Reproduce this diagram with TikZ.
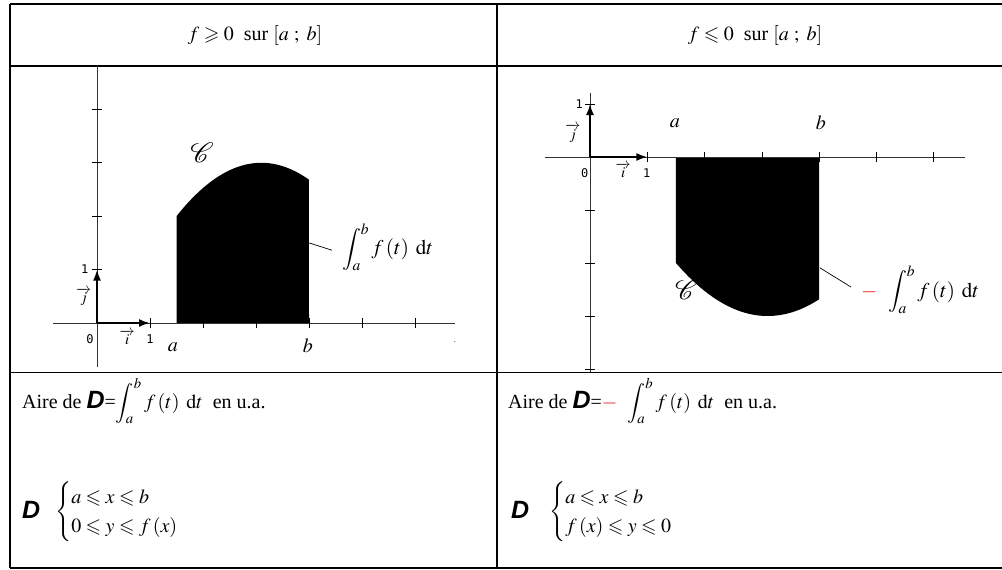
\documentclass[tikz,border=0pt]{standalone}
\usepackage{amsmath, amssymb}
\usepackage{mathptmx}
\usepackage{fontspec}
\setmainfont{Liberation Serif}
\newfontfamily\axisfont{DejaVu Sans Mono}
\newfontfamily\domfont{Liberation Sans}
\usepackage{tikz}
\usetikzlibrary{arrows.meta}
\definecolor{signred}{RGB}{230, 20, 20}
\newcommand{\domD}{{\domfont\bfseries\itshape\fontsize{25}{25}\selectfont D}}
\newcommand{\intab}{\displaystyle\int_a^b f\left(t\right)\;\mathrm{d}t}
\newcommand{\bigint}{{\fontsize{20}{24}\selectfont$\intab$}}

\tikzset{
  table line/.style={line width=1.1pt},
  axis line/.style={line width=0.8pt, black!80},
  tick mark/.style={line width=0.8pt},
  unit vec/.style={line width=1.8pt, -{Latex[length=11pt, width=8pt]}},
  axis num/.style={font=\axisfont\fontsize{12}{12}\selectfont, inner sep=0pt},
  vec lbl/.style={font=\fontsize{15}{15}\selectfont, inner sep=0pt},
  bound lbl/.style={font=\fontsize{20}{20}\selectfont, inner sep=0pt},
  curve lbl/.style={font=\fontsize{28}{28}\selectfont, inner sep=0pt},
  int lbl/.style={inner sep=0pt, anchor=west, font=\fontsize{21}{25}\selectfont}
}

\begin{document}
\begin{tikzpicture}[x=1pt, y=-1pt, font=\fontsize{20}{24}\selectfont]
  \useasboundingbox (0,0) rectangle (1002,570);

  % Table
  \draw[table line] (10,4) -- (1002,4);
  \draw[table line] (10,66) -- (1002,66);
  \draw[table line] (10,372.5) -- (1002,372.5);
  \draw[line width=2pt] (10,568) -- (1002,568);
  \draw[table line] (10,4) -- (10,568);
  \draw[table line] (497,4) -- (497,568);

  % Headers
  \node (hdL) at (255,35) {$f\geqslant 0$ \ sur $[a\ ;\ b]$};
  \node (hdR) at (755,35) {$f\leqslant 0$ \ sur $[a\ ;\ b]$};

  % f >= 0
  \begin{scope}[shift={(97,323)}, x=53pt, y=53.4pt]
    \fill (1.5,0) -- plot[domain=1.5:4, samples=60] (\x, {3-((\x-3.1)/1.6)^2})
      -- (4,0) -- cycle;
    \draw[axis line] (-0.83,0) -- (6.75,0);
    \draw[axis line] (0,-0.82) -- (0,4.81);
    \foreach \k in {1,...,6}
      \draw[tick mark] (\k,0) ++(0,-5pt) -- ++(0,10pt);
    \foreach \k in {1,...,4}
      \draw[tick mark] (0,\k) ++(-5pt,0) -- ++(10pt,0);
    \draw[unit vec] (0,0) -- (1,0);
    \draw[unit vec] (0,0) -- (0,1);

    \node[axis num] (oL) at (-0.13,-0.30) {0};
    \node[axis num] (xoneL) at (1.0,-0.30) {1};
    \node[axis num] (yoneL) at (-0.23,1.01) {1};
    \node[vec lbl] (iL) at (0.57,-0.27) {$\overrightarrow{i}$};
    \node[vec lbl] (jL) at (-0.25,0.49) {$\overrightarrow{j}$};
    \node[bound lbl] (aL) at (1.43,-0.46) {$a$};
    \node[bound lbl] (bL) at (3.98,-0.43) {$b$};
    \node[curve lbl] (cL) at (1.98,3.18) {$\mathcal{C}$};
    \node[inner sep=0pt, font=\fontsize{8}{8}\selectfont] (dotL) at (6.75,-0.36) {.};

    \coordinate (pL) at (4,1.5);
    \node[int lbl] (intL) at (4.62,1.42) {$\intab$};
    \draw[line width=0.7pt] (pL) -- ([shift={(-10pt,-3pt)}]intL.west);
  \end{scope}

  % f <= 0
  \begin{scope}[shift={(590,157)}, x=57.3pt, y=53pt]
    \fill (1.5,0) -- plot[domain=1.5:4, samples=60] (\x, {-3+((\x-3.1)/1.6)^2})
      -- (4,0) -- cycle;
    \draw[axis line] (-0.79,0) -- (6.54,0);
    \draw[axis line] (0,1.21) -- (0,-4.06);
    \foreach \k in {1,...,6}
      \draw[tick mark] (\k,0) ++(0,-5pt) -- ++(0,10pt);
    \foreach \k in {1,-1,-2,-3,-4}
      \draw[tick mark] (0,\k) ++(-5pt,0) -- ++(10pt,0);
    \draw[unit vec] (0,0) -- (1,0);
    \draw[unit vec] (0,0) -- (0,1);

    \node[axis num] (oR) at (-0.09,-0.30) {0};
    \node[axis num] (xoneR) at (0.99,-0.30) {1};
    \node[axis num] (yoneR) at (-0.19,1.0) {1};
    \node[vec lbl] (iR) at (0.58,-0.25) {$\overrightarrow{i}$};
    \node[vec lbl] (jR) at (-0.30,0.45) {$\overrightarrow{j}$};
    \node[bound lbl] (aR) at (1.48,0.64) {$a$};
    \node[bound lbl] (bR) at (4.03,0.64) {$b$};
    \node[curve lbl] (cR) at (1.69,-2.5) {$\mathcal{C}$};

    \coordinate (pR) at (4.01,-2.09);
    \node[int lbl] (intR) at (4.73,-2.51)
      {\textcolor{signred}{$-$}\ \ $\intab$};
    \draw[line width=0.7pt] (pR) -- ([shift={(-10pt,3pt)}]intR.west);
  \end{scope}

  % Areas and domains
  \node[anchor=base west, inner sep=0pt] (aireL) at (22,408)
    {Aire de \domD{=}\bigint\ \ en u.a.};
  \node[anchor=base west, inner sep=0pt] (aireR) at (508,408)
    {Aire de \domD{=}\textcolor{signred}{$-$}\ \ \bigint\ \ en u.a.};

  \node[anchor=base west, inner sep=0pt] (dL) at (22,518) {\domD};
  \node[anchor=west, inner sep=0pt] (sysL) at (55,512)
    {$\begin{cases} a\leqslant x\leqslant b\\ 0\leqslant y\leqslant f\left(x\right)\end{cases}$};
  \node[anchor=base west, inner sep=0pt] (dR) at (511,518) {\domD};
  \node[anchor=west, inner sep=0pt] (sysR) at (549,512)
    {$\begin{cases} a\leqslant x\leqslant b\\ f\left(x\right)\leqslant y\leqslant 0\end{cases}$};
\end{tikzpicture}
\end{document}
